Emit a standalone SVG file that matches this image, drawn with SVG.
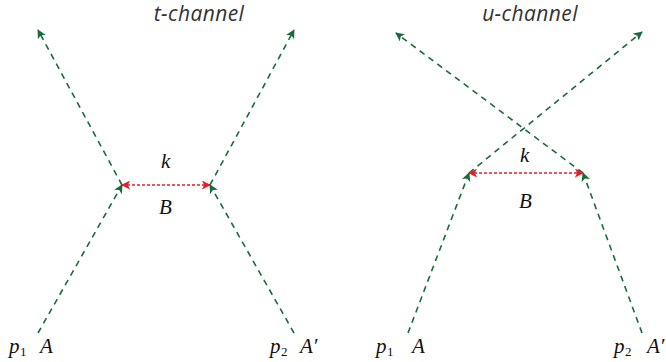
<svg xmlns="http://www.w3.org/2000/svg" width="666" height="362" viewBox="0 0 666 362">
<style>
.g{stroke:#1a6b3a;stroke-width:1.6;stroke-dasharray:6,5;fill:none}
.r{stroke:#e0202a;stroke-width:1.6;stroke-dasharray:3,2;fill:none}
.t{font-family:"Open Sans","DejaVu Sans",sans-serif;font-style:italic;font-size:21px;letter-spacing:0.4px;fill:#333;text-anchor:middle}
.l{font-family:"Liberation Serif",serif;font-style:italic;font-size:21px;fill:#111}
.s{font-family:"Liberation Serif",serif;font-size:13px;fill:#111}
</style>
<defs>
<marker id="ag" viewBox="0 0 10 10" refX="9" refY="5" markerWidth="9" markerHeight="9" markerUnits="userSpaceOnUse" orient="auto"><path d="M0,0L10,5L0,10L2.5,5z" fill="#1a6b3a"/></marker>
<marker id="ar" viewBox="0 0 10 10" refX="9" refY="5" markerWidth="9" markerHeight="9" markerUnits="userSpaceOnUse" orient="auto-start-reverse"><path d="M0,0L10,5L0,10L2.5,5z" fill="#e0202a"/></marker>
</defs>
<g id="titles">
<text class="t" x="199" y="21">t-channel</text>
<text class="t" x="530" y="21">u-channel</text>
</g>
<g id="connectors">
<line class="g" x1="38" y1="333" x2="122" y2="185" marker-end="url(#ag)"/>
<line class="g" x1="294" y1="333" x2="210" y2="185" marker-end="url(#ag)"/>
<line class="g" x1="122" y1="185" x2="38" y2="30" marker-end="url(#ag)"/>
<line class="g" x1="210" y1="185" x2="294" y2="30" marker-end="url(#ag)"/>
<line class="r" x1="122" y1="185" x2="210" y2="185" marker-start="url(#ar)" marker-end="url(#ar)"/>
<line class="g" x1="408" y1="333" x2="469" y2="173" marker-end="url(#ag)"/>
<line class="g" x1="642" y1="333" x2="583" y2="173" marker-end="url(#ag)"/>
<line class="g" x1="469" y1="173" x2="642" y2="32" marker-end="url(#ag)"/>
<line class="g" x1="583" y1="173" x2="396" y2="33" marker-end="url(#ag)"/>
<line class="r" x1="469" y1="173" x2="583" y2="173" marker-start="url(#ar)" marker-end="url(#ar)"/>
</g>
<g id="t-labels">
<text class="l" x="161" y="168">k</text>
<text class="l" x="159" y="214">B</text>
<text class="l" x="9" y="353">p</text><text class="s" x="20" y="356">1</text>
<text class="l" x="40" y="353">A</text>
<text class="l" x="270" y="353">p</text><text class="s" x="281" y="356">2</text>
<text class="l" x="300" y="353">A′</text>
</g>
<g id="u-labels">
<text class="l" x="520" y="162">k</text>
<text class="l" x="519" y="208">B</text>
<text class="l" x="376" y="353">p</text><text class="s" x="387" y="356">1</text>
<text class="l" x="412" y="353">A</text>
<text class="l" x="614" y="353">p</text><text class="s" x="625" y="356">2</text>
<text class="l" x="647" y="353">A′</text>
</g>
</svg>
